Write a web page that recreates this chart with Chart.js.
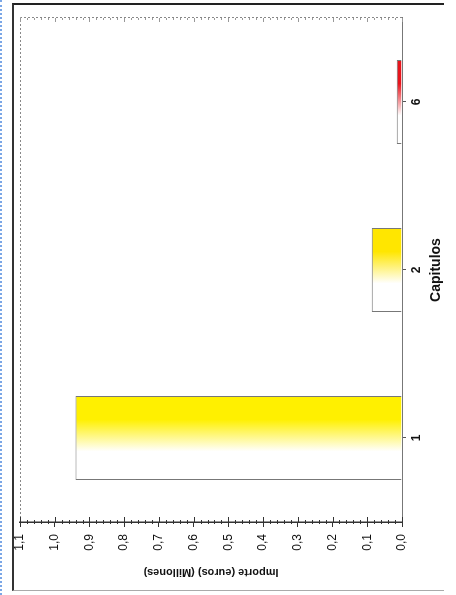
<!DOCTYPE html>
<html>
<head>
<meta charset="utf-8">
<script src="https://cdn.jsdelivr.net/npm/chart.js@4/dist/chart.umd.min.js"></script>
<style>
body{margin:0;background:#fff;}
#page{position:relative;width:456px;height:595px;overflow:hidden;background:#fff;}
#frame{position:absolute;left:12px;top:3px;width:430px;height:585px;border-top:2px solid #222;border-left:2px solid #333;border-bottom:1px solid #aaa;}
#scan{position:absolute;left:0;top:0;width:0;height:595px;border-left:2px dotted #7aa6e6;}
/* chart is drawn upright, then turned a quarter to the left like the scan */
#wrap{position:absolute;left:0;top:0;width:595px;height:456px;transform-origin:0 0;transform:translateY(595px) rotate(-90deg);}
</style>
</head>
<body>
<div id="page">
<div id="scan"></div>
<div id="frame"></div>
<div id="wrap"><canvas id="chart" width="595" height="456"></canvas></div>
</div>
<script>
const categories = ["1", "2", "6"];
const importe = [0.94, 0.087, 0.015];
const barColors = ["#fff000", "#ffe600", "#e8141c"];
const tickLabels = ["0,0","0,1","0,2","0,3","0,4","0,5","0,6","0,7","0,8","0,9","1,0","1,1"];


function barFill(context){

const chart = context.chart;
const xs = chart.scales.x;
const c = barColors[context.dataIndex] || barColors[0];

if(!chart.chartArea || !xs || context.dataIndex === undefined) return c;

const center = xs.getPixelForValue(context.dataIndex);
const half = xs.width / categories.length * 0.25;

if(!isFinite(center) || !isFinite(half) || half <= 0) return c;

const g = chart.ctx.createLinearGradient(center - half, 0, center + half, 0);

g.addColorStop(0, "#ffffff");
g.addColorStop(0.34, "#ffffff");
g.addColorStop(0.72, c);
g.addColorStop(1, c);

return g;

}


// dotted plot border + the small minor ticks of the old plot
const plotFrame = {

id: "plotFrame",

afterDraw(chart){

const {ctx, chartArea: a, scales: {y}} = chart;

ctx.save();

ctx.strokeStyle = "#888";
ctx.lineWidth = 1;
ctx.setLineDash([2, 2]);

ctx.beginPath();
ctx.moveTo(a.left, a.top + 0.5);
ctx.lineTo(a.right + 0.5, a.top + 0.5);
ctx.lineTo(a.right + 0.5, a.bottom);
ctx.stroke();

ctx.setLineDash([]);

for(let i = 0; i <= 55; i++){

const py = Math.round(y.getPixelForValue(i * 0.02)) + 0.5;
const major = i % 5 === 0;

ctx.strokeStyle = "#333";
ctx.beginPath();
ctx.moveTo(a.left - (major ? 0 : 2), py);
ctx.lineTo(a.left + (major ? 5 : 2), py);
ctx.stroke();

ctx.strokeStyle = "#999";
ctx.beginPath();
ctx.moveTo(a.right - (major ? 4 : 2), py);
ctx.lineTo(a.right, py);
ctx.stroke();

}

ctx.restore();

}

};


new Chart(document.getElementById("chart"), {

type: "bar",

data: {

labels: categories,

datasets: [{

data: importe,

backgroundColor: barFill,

borderColor: "#777",

borderWidth: 1,

barPercentage: 0.5,

categoryPercentage: 1

}]

},

options: {

responsive: false,

animation: false,

layout: {
padding: {top: 20, right: 18, left: 0, bottom: 0}
},

plugins: {
legend: {display: false},
tooltip: {enabled: false}
},

scales: {

y: {

min: 0,
max: 1.1,

afterFit(s){ s.width = 73; },

ticks: {
stepSize: 0.1,
padding: 7,
color: "#111",
font: {family: "Liberation Sans", size: 12},
callback: (v, i) => tickLabels[i]
},

grid: {
drawOnChartArea: false,
tickLength: 5,
color: "#333"
},

border: {color: "#333", width: 1.5},

title: {
display: true,
text: "Importe (euros) (Millones)",
color: "#111",
font: {family: "Liberation Sans", size: 11, weight: "bold"},
padding: {top: 16, bottom: 0}
}

},

x: {

afterFit(s){ s.height = 54; },

ticks: {
padding: 3,
color: "#111",
font: {family: "Liberation Sans", size: 12, weight: "bold"}
},

grid: {
drawOnChartArea: false,
offset: false,
tickLength: 4,
color: "#555"
},

border: {color: "#777", dash: [3, 2]},

title: {
display: true,
text: "Capitulos",
color: "#111",
font: {family: "Liberation Sans", size: 14, weight: "bold"},
padding: {top: 0, bottom: 11}
}

}

}

},

plugins: [plotFrame]

});
</script>
</body>
</html>
